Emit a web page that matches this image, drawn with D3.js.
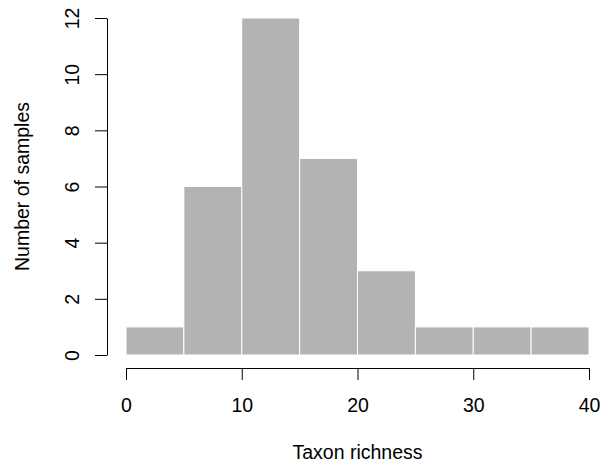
<!DOCTYPE html>
<html><head><meta charset="utf-8">
<script src="https://cdn.jsdelivr.net/npm/d3@7"></script>
<style>body{margin:0;background:#fff}svg{display:block}text{font-family:"Liberation Sans",Arial,sans-serif;fill:#000}</style>
</head><body>
<script>
const binStarts = [0, 5, 10, 15, 20, 25, 30, 35];
const binWidth = 5;
const counts = [1, 6, 12, 7, 3, 1, 1, 1];
const xTicks = [0, 10, 20, 30, 40];
const yTicks = [0, 2, 4, 6, 8, 10, 12];
const xLabel = "Taxon richness";
const yLabel = "Number of samples";

const W = 609, H = 463;
const svg = d3.select("body").append("svg").attr("width", W).attr("height", H);
const x = d3.scaleLinear().domain([0, 40]).range([126, 589]);
const y = d3.scaleLinear().domain([0, 12]).range([355, 18]);

svg.append("g").selectAll("rect").data(binStarts).join("rect")
  .attr("x", (d) => x(d))
  .attr("y", (d, i) => y(counts[i]))
  .attr("width", (d) => x(d + binWidth) - x(d))
  .attr("height", (d, i) => y(0) - y(counts[i]))
  .attr("fill", "#b3b3b3")
  .attr("stroke", "#ffffff")
  .attr("stroke-width", 1);

const fs = 19.5;
// x axis
const xa = svg.append("g").attr("transform", "translate(0,368)")
  .call(d3.axisBottom(x).tickValues(xTicks).tickSize(12).tickSizeOuter(0).tickPadding(0));
xa.select(".domain").attr("stroke", "#000");
xa.selectAll(".tick line").attr("stroke", "#000");
xa.selectAll(".tick text").attr("font-size", fs).attr("dy", null).attr("y", 44).attr("fill", "#000")
  .style("font-family", '"Liberation Sans",Arial,sans-serif');

// y axis
const ya = svg.append("g").attr("transform", "translate(107,0)")
  .call(d3.axisLeft(y).tickValues(yTicks).tickSize(12).tickSizeOuter(0).tickPadding(0));
ya.select(".domain").attr("stroke", "#000");
ya.selectAll(".tick line").attr("stroke", "#000");
ya.selectAll(".tick text").attr("font-size", fs).attr("dy", null).attr("x", null)
  .attr("text-anchor", "middle").attr("fill", "#000")
  .attr("transform", "translate(-28,0) rotate(-90)")
  .style("font-family", '"Liberation Sans",Arial,sans-serif');

svg.append("text").attr("x", x(20)).attr("y", 459).attr("text-anchor", "middle")
  .attr("font-size", fs).text(xLabel);
svg.append("text").attr("transform", `translate(29,${(y(0)+y(12))/2}) rotate(-90)`)
  .attr("text-anchor", "middle").attr("font-size", fs).text(yLabel);
</script>
</body></html>
